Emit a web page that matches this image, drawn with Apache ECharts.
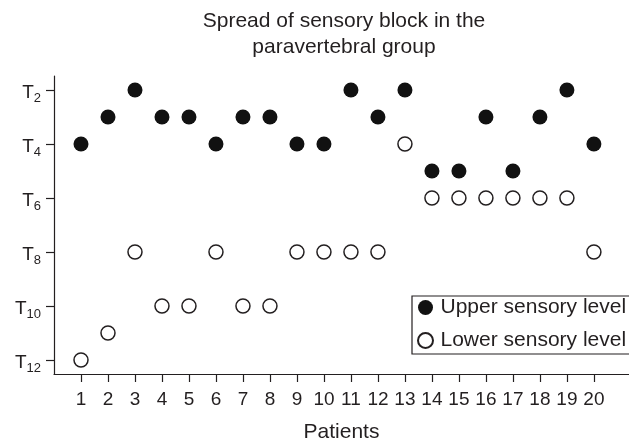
<!DOCTYPE html>
<html>
<head>
<meta charset="utf-8">
<script src="https://cdn.jsdelivr.net/npm/echarts@6/dist/echarts.min.js"></script>
<style>
  html, body { margin: 0; padding: 0; background: #fff; }
  #main { width: 629px; height: 440px; }
</style>
</head>
<body>
<div id="main"></div>
<script>
// data (thoracic level number, T2..T12)
var patients = [1, 2, 3, 4, 5, 6, 7, 8, 9, 10, 11, 12, 13, 14, 15, 16, 17, 18, 19, 20];
var upperLevel = [4, 3, 2, 3, 3, 4, 3, 3, 4, 4, 2, 3, 2, 5, 5, 3, 5, 3, 2, 4];
var lowerLevel = [12, 11, 8, 10, 10, 8, 10, 10, 8, 8, 8, 8, 4, 6, 6, 6, 6, 6, 6, 8];
var levelTicks = [2, 4, 6, 8, 10, 12];

var font = 'Liberation Sans';
var ink = '#231f20';

function pairs(ys) {
  return patients.map(function (p, i) { return [p, ys[i]]; });
}

var chart = echarts.init(document.getElementById('main'));
chart.setOption({
  animation: false,
  textStyle: { fontFamily: font, color: ink },
  graphic: [{
    type: 'text',
    x: 344,
    y: 8,
    style: {
      text: 'Spread of sensory block in the\nparavertebral group',
      font: '21px ' + font,
      lineHeight: 26,
      fill: ink,
      align: 'center',
      verticalAlign: 'top'
    }
  }],
  grid: { left: 54, right: 0, top: 76, bottom: 66, outerBoundsMode: 'none' },
  legend: {
    left: 412,
    top: 296,
    orient: 'vertical',
    padding: [1, 60, 3, 5],
    itemGap: 12,
    itemWidth: 20,
    itemHeight: 15,
    borderColor: ink,
    borderWidth: 1.2,
    textStyle: { fontSize: 21, color: ink, fontFamily: font },
    data: ['Upper sensory level', 'Lower sensory level']
  },
  xAxis: {
    type: 'value',
    min: 0,
    max: 21.3,
    name: 'Patients',
    nameLocation: 'middle',
    nameGap: 48,
    nameTextStyle: { fontSize: 21, color: ink, fontFamily: font },
    axisLine: { lineStyle: { color: ink, width: 1.2 } },
    axisTick: { length: 8, customValues: patients, lineStyle: { color: ink, width: 1.2 } },
    axisLabel: { customValues: patients, fontSize: 19, color: ink, margin: 16 },
    splitLine: { show: false }
  },
  yAxis: {
    type: 'value',
    inverse: true,
    min: 1.48,
    max: 12.52,
    axisLine: { show: true, lineStyle: { color: ink, width: 1.2 } },
    axisTick: { show: true, length: 8, customValues: levelTicks, lineStyle: { color: ink, width: 1.2 } },
    axisLabel: {
      customValues: levelTicks,
      margin: 13,
      formatter: function (v) { return '{t|T}{s|' + v + '}'; },
      rich: {
        t: { fontSize: 19, lineHeight: 20, padding: [5, 0, 0, 0], color: ink, fontFamily: font },
        s: { fontSize: 13, lineHeight: 14, padding: [16, 0, 0, 0], color: ink, fontFamily: font }
      }
    },
    splitLine: { show: false }
  },
  series: [
    {
      name: 'Upper sensory level',
      type: 'scatter',
      symbol: 'circle',
      symbolSize: 15,
      itemStyle: { color: '#111', opacity: 1 },
      data: pairs(upperLevel)
    },
    {
      name: 'Lower sensory level',
      type: 'scatter',
      symbol: 'circle',
      symbolSize: 14,
      itemStyle: { color: '#fff', borderColor: ink, borderWidth: 1.5, opacity: 1 },
      data: pairs(lowerLevel)
    }
  ]
});
</script>
</body>
</html>
